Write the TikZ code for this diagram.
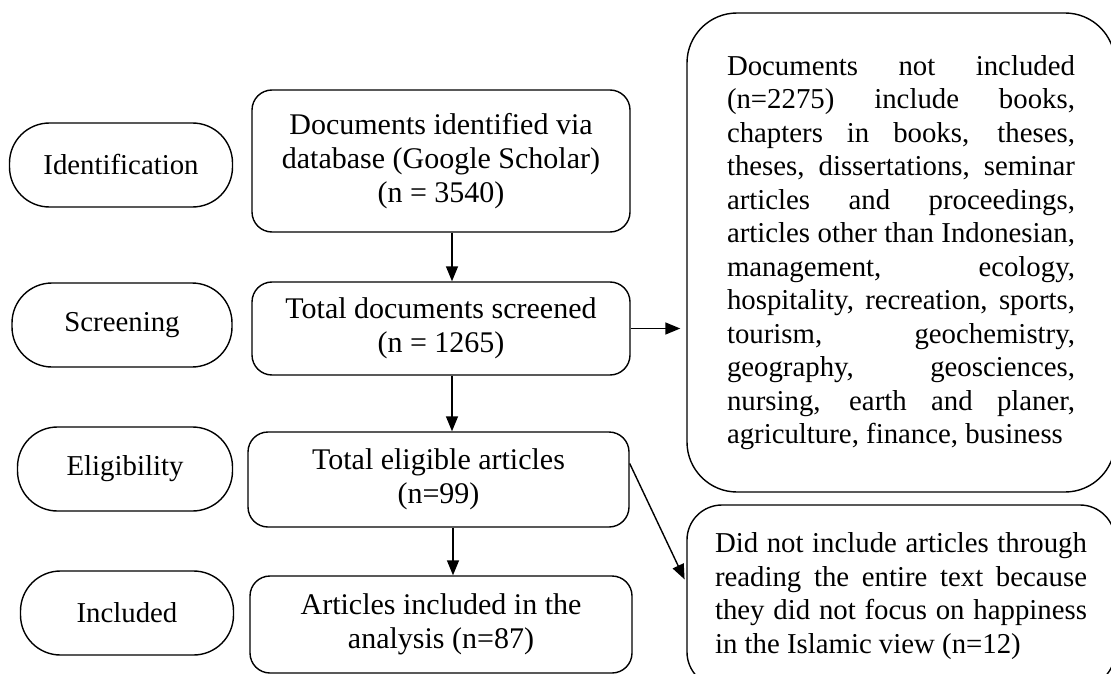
\documentclass[tikz,border=0pt]{standalone}
\usepackage{fontspec}
\setmainfont{Liberation Serif}
\usetikzlibrary{arrows.meta}

\begin{document}
\begin{tikzpicture}[x=1pt, y=-1pt, font=\fontsize{28.8}{33.5}\selectfont]
      \tikzset{stage/.style={draw, line width=1.4pt, rounded corners=40pt, minimum height=84pt, align=center},
               record/.style={draw, line width=1.4pt, rounded corners=20pt, minimum width=378pt, align=center, font=\fontsize{30}{34}\selectfont},
               excluded/.style={draw, line width=1.4pt, align=justify}}
      \useasboundingbox (0,0) rectangle (1111,674);
      \clip (0,0) rectangle (1111,674);
%% Stages
      \node[stage, minimum width=223pt] (s1) at (121,165) {Identification};
      \node[stage, minimum width=220pt] (s2) at (122,325) {Screening};
      \node[stage, minimum width=215pt] (s3) at (125,469) {Eligibility};
      \node[stage, minimum width=213pt] (s4) at (127,613) {Included};
%% Records
      \node[record, minimum height=142pt] (r1) at (441,161) {Documents identified via\\ database (Google Scholar)\\ (n = 3540)};
      \node[record, minimum height=93pt] (r2) at (441,328.5) {Total documents screened\\ (n = 1265)};
      \node[record, minimum width=381pt, minimum height=95pt] (r3) at (438.5,479.5) {Total eligible articles\\ (n=99)};
      \node[record, minimum width=382pt, minimum height=97pt] (r4) at (441,624.5) {Articles included in the\\ analysis (n=87)};
%% Excluded
      \node[excluded, text width=348pt, inner xsep=40pt, minimum height=479pt, rounded corners=50pt] (x1) at (901,252.5)
        {Documents not included\linebreak (n=2275) include books,\linebreak chapters in books, theses,\linebreak
         theses, dissertations, seminar\linebreak articles and proceedings,\linebreak articles other than Indonesian,\linebreak
         management, ecology,\linebreak hospitality, recreation, sports,\linebreak tourism, geochemistry,\linebreak
         geography, geosciences,\linebreak nursing, earth and planer,\linebreak agriculture, finance, business};
      \node[excluded, text width=372pt, inner xsep=28pt, minimum height=182pt, rounded corners=35pt] (x2) at (901,596)
        {Did not include articles through\linebreak reading the entire text because\linebreak they did not focus on happiness\linebreak in the Islamic view (n=12)};
%Edges
      \path [->, > = {Triangle[length=15pt, width=12pt]}, line width=1.4pt] ([xshift=11pt]r1.south) edge ([xshift=11pt]r2.north);
      \path [->, > = {Triangle[length=15pt, width=12pt]}, line width=1.4pt] ([xshift=11pt]r2.south) edge ([xshift=11pt]r2.south |- r3.north);
      \path [->, > = {Triangle[length=15pt, width=12pt]}, line width=1.4pt] ([xshift=14.5pt]r3.south) edge ([xshift=14.5pt]r3.south |- r4.north);
      \path [->, > = {Triangle[length=15pt, width=12pt]}, line width=1.4pt] (r2.east) edge[shorten >=6pt] (r2.east -| x1.west);
      \path [->, > = {Triangle[length=15pt, width=12pt]}, line width=1.4pt] ([yshift=16pt]r3.east) edge[shorten >=4pt] ([yshift=13pt]x2.west);
\end{tikzpicture}
\end{document}
